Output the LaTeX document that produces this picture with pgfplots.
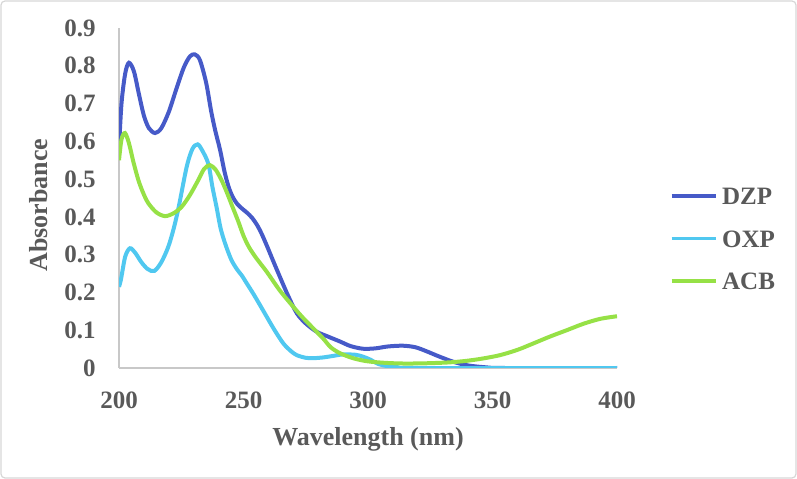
\documentclass[border=0pt]{standalone}
\usepackage{pgfplots}
\pgfplotsset{compat=1.18}
\usepackage{fontspec}
\setmainfont{Liberation Serif}

\definecolor{dzp}{RGB}{70,90,200}
\definecolor{oxp}{RGB}{80,200,240}
\definecolor{acb}{RGB}{150,225,70}
\definecolor{labelgray}{RGB}{89,89,89}
\definecolor{axisgray}{RGB}{200,200,200}
\definecolor{framegray}{RGB}{215,215,215}

% UV-Vis absorption spectra
\pgfplotstableread{
x y
200 0.58
201 0.70
202.5 0.78
204 0.808
206 0.785
208 0.725
210 0.668
212 0.635
214.5 0.622
217 0.635
220 0.678
223 0.738
226 0.795
228.5 0.825
230.5 0.830
232.5 0.815
235 0.755
237 0.68
238.6 0.63
240.6 0.577
242.3 0.522
243.9 0.482
245.5 0.455
247.5 0.434
249.6 0.421
251.6 0.410
253.5 0.397
255.5 0.378
257.3 0.355
259.3 0.325
262 0.282
264.7 0.240
268 0.19
271.4 0.145
275 0.118
279.4 0.096
284 0.083
288.8 0.07
293 0.058
298 0.051
303 0.052
308 0.057
314 0.059
319 0.055
323.6 0.044
328 0.032
334 0.017
340 0.007
347 0.002
355 0.0
400 0.0
}\dzp

\pgfplotstableread{
x y
200 0.215
200.8 0.235
202.5 0.295
204.4 0.317
206.5 0.305
209 0.28
211.5 0.262
214.2 0.257
217 0.28
219.8 0.321
222 0.37
224 0.427
227.2 0.533
229.5 0.58
231.6 0.592
233.5 0.575
235.9 0.54
237.5 0.48
239.2 0.425
240.8 0.37
242.6 0.33
245 0.288
247.3 0.262
249.3 0.245
251.5 0.222
253.9 0.197
256.5 0.168
259.3 0.136
262.5 0.10
266 0.065
269 0.045
271.4 0.034
275 0.027
278 0.026
282 0.028
286 0.032
290 0.036
295 0.035
298 0.03
301 0.022
304 0.011
307.5 0.005
312 0.002
320 0.0
400 0.0
}\oxp

\pgfplotstableread{
x y
200 0.55
201 0.605
202.4 0.622
204 0.595
205.8 0.545
207.8 0.497
209.8 0.462
211.8 0.436
215 0.412
218.5 0.402
222 0.410
225.2 0.427
228.5 0.458
231.8 0.497
234.2 0.527
236.5 0.537
238.8 0.525
241.2 0.497
243.3 0.465
245.5 0.428
247.9 0.388
250 0.350
252.2 0.320
255 0.292
259.3 0.255
264.5 0.206
270 0.162
274 0.132
278 0.105
282 0.078
285 0.055
288.8 0.039
294 0.026
299.5 0.018
306 0.014
312.9 0.012
319.5 0.012
326 0.013
333 0.015
339.6 0.019
346 0.025
353 0.034
360 0.048
366.4 0.065
373 0.083
379.8 0.10
386.5 0.117
393.2 0.13
400 0.137
}\acb

\begin{document}
\begin{tikzpicture}[x=1bp,y=1bp]
  % outer frame of the figure
  \path[use as bounding box] (0,0) rectangle (398.5,239.5);
  \draw[framegray, line width=0.6bp, rounded corners=2bp] (0.5,0.5) rectangle (398,239);
  \begin{axis}[
    at={(59.5bp,55.5bp)}, anchor=south west,
    scale only axis, width=249bp, height=170bp,
    xmin=200, xmax=400, ymin=0, ymax=0.9,
    enlargelimits=false,
    axis x line=bottom, axis y line=left,
    axis line style={axisgray, line width=0.8bp, -},
    xtick={200,250,...,400},
    ytick={0,0.1,...,0.9},
    major tick length=0pt,
    /pgf/number format/assume math mode=true,
    /pgf/number format/fixed,
    /pgf/number format/precision=1,
    every tick label/.append style={font=\fontsize{12.5bp}{15bp}\selectfont\bfseries, text=labelgray, inner sep=0pt},
    xticklabel style={anchor=north, yshift=-11.6bp},
    yticklabel style={anchor=east, xshift=-11.5bp},
    xlabel={Wavelength (nm)},
    ylabel={Absorbance},
    label style={font=\fontsize{13bp}{15.5bp}\selectfont\bfseries, text=labelgray, inner sep=0pt},
    xlabel style={at={(axis description cs:0.5,-0.2265)}, anchor=base},
    ylabel style={at={(axis description cs:-0.1426,0.479)}, anchor=base, rotate=0},
    legend cell align=left,
    legend style={
      at={(1.1064,0.5309)}, anchor=north west,
      draw=none, fill=none, inner sep=0pt, outer sep=0pt,
      row sep=12.75bp,
      font=\fontsize{12.5bp}{15bp}\selectfont\bfseries,
      text=labelgray,
      nodes={inner sep=0pt, text height=8.5bp, text depth=0pt, outer sep=0pt},
    },
    legend image code/.code={\draw[#1, line width=1.6bp] (0bp,0bp) -- (22bp,0bp);},
    every axis plot/.append style={line width=2bp, smooth, tension=0.5, no markers},
  ]
    \addplot[dzp] table[x=x, y=y] {\dzp};
    \addlegendentry{\hspace{2.5bp}DZP}
    \addplot[oxp] table[x=x, y=y] {\oxp};
    \addlegendentry{\hspace{2.5bp}OXP}
    \addplot[acb] table[x=x, y=y] {\acb};
    \addlegendentry{\hspace{2.5bp}ACB}
  \end{axis}
\end{tikzpicture}
\end{document}
